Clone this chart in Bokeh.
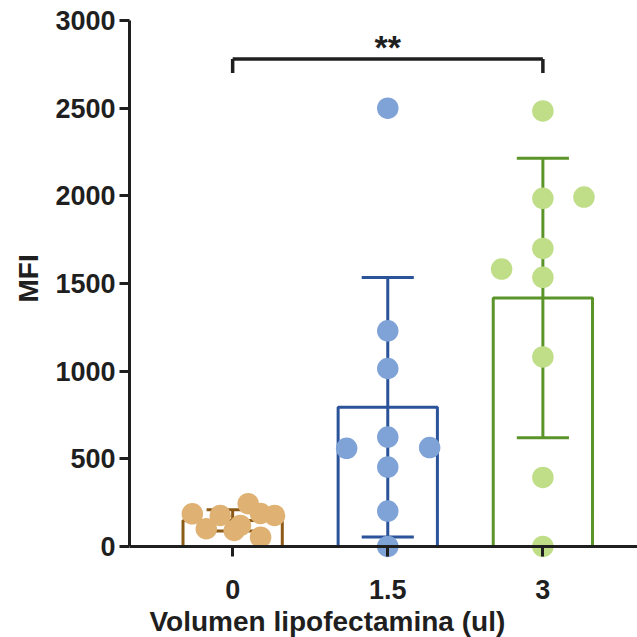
import numpy as np
from bokeh.plotting import figure
from bokeh.models import Range1d, Label, FixedTicker, Span, Title
from bokeh.embed import file_html
from bokeh.resources import INLINE

# ---- data ----
categories = ["0", "1.5", "3"]
mfi_0 = [186, 101, 177, 91, 244, 188, 177, 53, 120]
mfi_15 = [2500, 1230, 1015, 624, 560, 564, 453, 202, 0]
mfi_3 = [2484, 1986, 1993, 1700, 1582, 1535, 1081, 394, 0]
jitter_0 = [-0.26, -0.17, -0.08, 0.01, 0.10, 0.18, 0.27, 0.18, 0.05]
jitter_15 = [0, 0, 0, 0, -0.265, 0.27, 0, 0, 0]
jitter_3 = [0, 0, 0.265, 0, -0.266, 0, 0, 0, 0]
y_ticks = [0, 500, 1000, 1500, 2000, 2500, 3000]
significance = "**"
x_title = "Volumen lipofectamina (ul)"
y_title = "MFI"

groups = [mfi_0, mfi_15, mfi_3]
jitters = [jitter_0, jitter_15, jitter_3]
point_colors = ["#DFB274", "#7FA3D6", "#BFDE87"]
line_colors = ["#8C5A16", "#2B5399", "#5B9529"]

FONT = "Liberation Sans"
INK = "#1f1f1f"

p = figure(width=637, height=637, frame_width=508, frame_height=540,
           x_range=Range1d(-0.665, 2.61), y_range=Range1d(-80, 3000),
           output_backend="svg", toolbar_location=None,
           min_border_left=129, min_border_right=0,
           min_border_top=20, min_border_bottom=77)
p.grid.visible = False
p.outline_line_color = None
p.background_fill_color = "white"
p.border_fill_color = "white"

bar_w = 0.64
cap_half = 0.168
for i, (vals, jit) in enumerate(zip(groups, jitters)):
    arr = np.array(vals, dtype=float)
    m = arr.mean()
    sd = arr.std(ddof=1)
    p.vbar(x=[i], top=[m], bottom=[0], width=bar_w, fill_alpha=0,
           line_color=line_colors[i], line_width=3)
    p.segment(x0=[i], y0=[m - sd], x1=[i], y1=[m + sd],
              line_color=line_colors[i], line_width=3)
    p.segment(x0=[i - cap_half, i - cap_half], y0=[m - sd, m + sd],
              x1=[i + cap_half, i + cap_half], y1=[m - sd, m + sd],
              line_color=line_colors[i], line_width=3)

# x axis line at zero (frame extends slightly below so dots at 0 are whole)
p.add_layout(Span(location=0, dimension="width", line_color=INK, line_width=3))

for i, (vals, jit) in enumerate(zip(groups, jitters)):
    xs = [i + j for j in jit]
    p.scatter(x=xs, y=vals, size=21.5, marker="circle",
              fill_color=point_colors[i], line_color=None)

# significance bracket between first and last group
top_y = 2780
leg = 80
p.segment(x0=[0, 0, 2], y0=[top_y, top_y - leg, top_y - leg],
          x1=[2, 0, 2], y1=[top_y, top_y, top_y],
          line_color=INK, line_width=3.5)
p.add_layout(Label(x=1, y=2848, text=significance, text_align="center",
                   text_baseline="middle", text_font=FONT,
                   text_font_style="bold", text_font_size="34px",
                   text_color=INK))

# axes
for ax in (p.xaxis[0], p.yaxis[0]):
    ax.axis_line_width = 3
    ax.axis_line_color = INK
    ax.major_tick_line_width = 3
    ax.major_tick_line_color = INK
    ax.minor_tick_line_color = None
    ax.major_label_text_font = FONT
    ax.major_label_text_font_style = "bold"
    ax.major_label_text_font_size = "27px"
    ax.major_label_text_color = INK

p.yaxis.ticker = FixedTicker(ticks=y_ticks)
p.yaxis.bounds = (0, 3000)
p.yaxis.major_tick_out = 10
p.yaxis.major_tick_in = 0
p.yaxis.major_label_standoff = 4

p.xaxis.ticker = FixedTicker(ticks=[0, 1, 2])
p.xaxis.major_label_overrides = {i: c for i, c in enumerate(categories)}
p.xaxis.axis_line_color = None
p.xaxis.major_tick_in = 14
p.xaxis.major_tick_out = -4
p.xaxis.major_label_standoff = 19

p.add_layout(Title(text=x_title, align="left", offset=20, standoff=5,
                   text_font=FONT, text_font_style="bold",
                   text_font_size="28px", text_color=INK), "below")
p.add_layout(Title(text=y_title, align="left", offset=258, standoff=18,
                   text_line_height=0.7,
                   text_font=FONT, text_font_style="bold",
                   text_font_size="28px", text_color=INK), "left")

open("out.html", "w").write(file_html(p, INLINE))
